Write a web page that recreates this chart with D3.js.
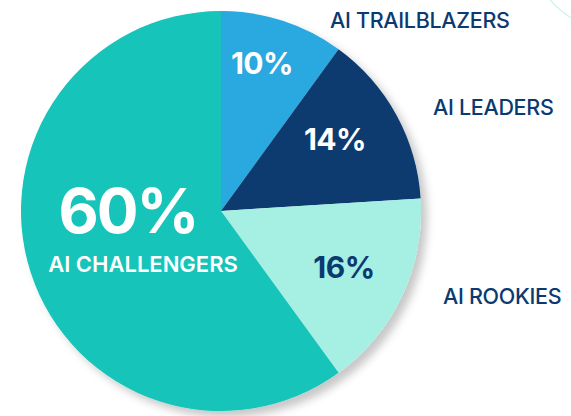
<!DOCTYPE html>
<html>
<head>
<meta charset="utf-8">
<style>
body { margin: 0; background: #fff; }
svg { display: block; font-family: Inter, "Liberation Sans", Arial, sans-serif; }
.pct { font-weight: 700; text-anchor: middle; }
.lbl { font-weight: 500; fill: #0b3a70; }
</style>
</head>
<body>
<svg id="svg"></svg>
<script src="https://cdnjs.cloudflare.com/ajax/libs/d3/7.8.5/d3.min.js"></script>
<script>
// chart data
var segments = ['AI TRAILBLAZERS', 'AI LEADERS', 'AI ROOKIES', 'AI CHALLENGERS']
var shares = [10, 14, 16, 60]
var colors = ['#2aa8e0', '#0b3a70', '#a6efe3', '#14c4ba']

var width = 571, height = 416
var cx = 221, cy = 211, radius = 200

var svg = d3.select('#svg')
    .attr('width', width)
    .attr('height', height)

// soft shadow under the pie
var defs = svg.append('defs')
defs.append('filter')
    .attr('id', 'shadow')
    .attr('x', '-10%').attr('y', '-10%')
    .attr('width', '125%').attr('height', '125%')
  .append('feDropShadow')
    .attr('dx', 6).attr('dy', 6)
    .attr('stdDeviation', 4)
    .attr('flood-color', '#000')
    .attr('flood-opacity', 0.22)

// faint decorative arc top right
var deco = d3.path()
deco.arc(620, -60, 92, 0, Math.PI)
svg.append('path')
    .attr('d', deco.toString())
    .attr('fill', 'none')
    .attr('stroke', '#c9f2ec')
    .attr('stroke-width', 1.2)

var pie = d3.pie().sort(null).value(d => d)
var arcs = pie(shares)
var arc = d3.arc().innerRadius(0).outerRadius(radius)

var g = svg.append('g')
    .attr('transform', 'translate(' + cx + ',' + cy + ')')

g.append('g')
    .attr('filter', 'url(#shadow)')
  .selectAll('path')
    .data(arcs)
    .enter().append('path')
    .attr('d', arc)
    .attr('fill', (d, i) => colors[i])

// percent labels inside slices
var pctPos = [[262, 74, 30, '#fff'], [335, 150, 30, '#fff'], [344, 278, 30, '#0b3a70'], [128, 233, 62, '#fff']]
svg.selectAll('text.pct')
    .data(shares)
    .enter().append('text')
    .attr('class', 'pct')
    .attr('x', (d, i) => pctPos[i][0])
    .attr('y', (d, i) => pctPos[i][1])
    .attr('font-size', (d, i) => pctPos[i][2])
    .attr('letter-spacing', (d, i) => i == 3 ? -2 : -0.5)
    .attr('fill', (d, i) => pctPos[i][3])
    .text(d => d + '%')

// segment names
var lblPos = [[330, 28], [433, 115], [443, 304]]
svg.selectAll('text.lbl')
    .data(segments.slice(0, 3))
    .enter().append('text')
    .attr('class', 'lbl')
    .attr('x', (d, i) => lblPos[i][0])
    .attr('y', (d, i) => lblPos[i][1])
    .attr('font-size', 21.5)
    .attr('letter-spacing', -0.3)
    .text(d => d)

svg.append('text')
    .attr('x', 143)
    .attr('y', 272)
    .attr('text-anchor', 'middle')
    .attr('font-size', 22)
    .attr('font-weight', 600)
    .attr('fill', '#fff')
    .text(segments[3])
</script>
</body>
</html>
